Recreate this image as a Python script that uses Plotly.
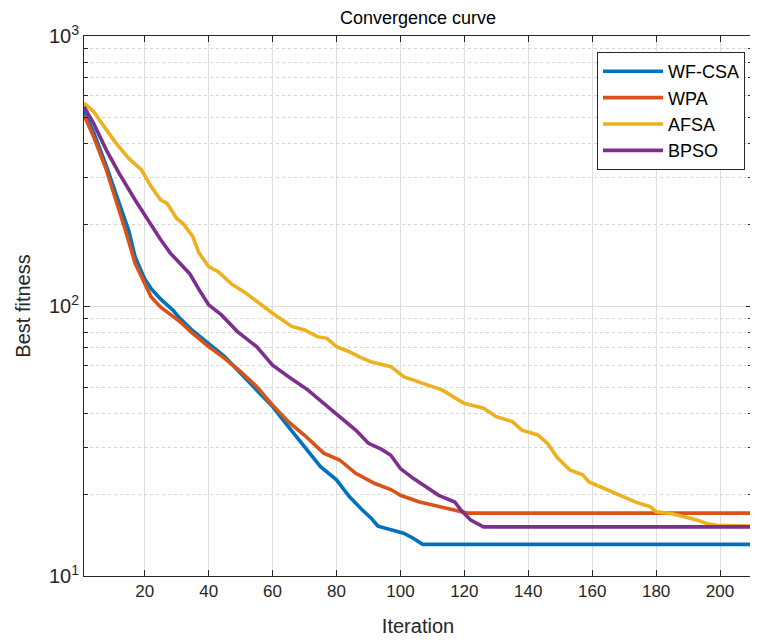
import plotly.graph_objects as go

# ---- data ----
wfcsa_iter = [1, 4, 8, 11, 15, 17, 20, 22, 25, 29, 31, 35, 40, 45, 50, 55, 60, 65, 70, 75, 80, 84, 88, 91, 93, 97, 101, 104, 107, 210]
wfcsa_val = [528, 440, 330, 258, 190, 152, 126, 116, 106, 96, 90, 81, 72.8, 64.9, 56.3, 48.9, 42.4, 35.7, 30.1, 25.4, 22.7, 19.7, 17.6, 16.3, 15.3, 14.8, 14.4, 13.8, 13.1, 13.1]

wpa_iter = [1, 4, 8, 11, 14, 17, 20, 22, 25, 29, 31, 35, 40, 45, 50, 55, 60, 65, 70, 76, 81, 86, 92, 97, 100, 106, 112, 119, 121, 210]
wpa_val = [509, 424, 319, 247, 190, 144, 120, 108, 99, 91, 87.5, 79.2, 70.7, 64, 57.1, 50.3, 42.9, 37.2, 33.2, 28.5, 26.9, 24, 22, 20.9, 19.9, 18.8, 18.1, 17.2, 17.1, 17.1]

afsa_iter = [1, 4, 8, 11, 15, 19, 22, 25, 27, 30, 32, 35, 37, 40, 43, 47, 51, 56, 60, 66, 70, 74, 77, 80, 84, 87, 91, 97, 101, 107, 113, 118, 120, 122, 126, 130, 135, 138, 143, 146, 149, 153, 157, 159, 165, 169, 174, 178, 180, 185, 190, 193, 196, 199, 210]
afsa_val = [564, 525, 449, 401, 352, 319, 277, 247, 240, 211, 202, 181, 157, 140, 134, 121, 113, 102, 94, 84, 81.5, 77, 75.9, 70.7, 67.7, 64.9, 62, 59.6, 54.7, 51.7, 48.9, 45, 43.6, 43, 41.8, 38.9, 37.3, 34.7, 33.3, 31, 27.5, 24.7, 23.7, 22.3, 20.8, 19.7, 18.7, 18.1, 17.3, 17, 16.4, 16.1, 15.6, 15.4, 15.3]

bpso_iter = [1, 4, 8, 12, 17, 21, 25, 28, 31, 34, 37, 40, 44, 49, 55, 60, 65, 71, 76, 81, 86, 90, 94, 97, 100, 104, 108, 112, 117, 119, 122, 126, 210]
bpso_val = [547, 475, 378, 310, 247, 208, 176, 157, 144, 132, 115, 101, 92.7, 80.4, 70.7, 60.4, 54.7, 48.9, 43.6, 38.9, 34.7, 31, 29.5, 28, 25, 23, 21.4, 19.9, 18.8, 17.5, 16.1, 15.2, 15.2]

series_names = ["WF-CSA", "WPA", "AFSA", "BPSO"]
series_colors = ["#0072BD", "#D95319", "#EDB120", "#7E2F8E"]

x_ticks = [20, 40, 60, 80, 100, 120, 140, 160, 180, 200]
y_ticks = [10, 100, 1000]
y_ticktext = ["10<sup>1</sup>", "10<sup>2</sup>", "10<sup>3</sup>"]
y_minor = [m * d for d in (10, 100) for m in range(2, 10)]

FONT = "Liberation Sans, Arial, Helvetica, sans-serif"
INK = "#262626"
GRID = "#dedede"

# page is shown with an 8px body margin, so the figure is sized to compensate
W, H = 750, 632
L, T = 76, 28
R, B = 6, 64

fig = go.Figure()
for name, color, xs, ys in zip(series_names, series_colors,
                               [wfcsa_iter, wpa_iter, afsa_iter, bpso_iter],
                               [wfcsa_val, wpa_val, afsa_val, bpso_val]):
    fig.add_trace(go.Scatter(x=xs, y=ys, mode="lines", name=name,
                             line=dict(color=color, width=3.6)))

fig.update_layout(
    width=W, height=H,
    margin=dict(l=L, r=R, t=T, b=B),
    paper_bgcolor="white", plot_bgcolor="white",
    font=dict(family=FONT, color=INK, size=17),
    title=dict(text="Convergence curve", x=(L + (W - L - R) / 2) / W, xanchor="center",
               y=1 - 10 / H, yanchor="middle",
               font=dict(size=18, color="#000000", family=FONT)),
    legend=dict(x=(589 - L) / (W - L - R), y=1 - (44 - T) / (H - T - B),
                xanchor="left", yanchor="top",
                bgcolor="white", bordercolor=INK, borderwidth=1,
                font=dict(size=18, color="#000000", family=FONT),
                itemwidth=60, tracegroupgap=0),
    showlegend=True,
)

fig.update_xaxes(
    range=[1, 210], tickvals=x_ticks,
    ticks="inside", ticklen=6, tickcolor=INK, tickwidth=1,
    showline=True, linecolor=INK, linewidth=1, mirror="allticks",
    showgrid=True, gridcolor=GRID, gridwidth=1, zeroline=False,
    tickfont=dict(size=17, color=INK),
    title=dict(text="Iteration", font=dict(size=20, color=INK), standoff=18),
)
fig.update_yaxes(
    type="log", range=[1, 3], tickvals=y_ticks, ticktext=y_ticktext,
    ticks="inside", ticklen=6, tickcolor=INK, tickwidth=1,
    showline=True, linecolor=INK, linewidth=1, mirror="allticks",
    showgrid=True, gridcolor=GRID, gridwidth=1, zeroline=False,
    tickfont=dict(size=20, color=INK),
    minor=dict(tickmode="array", tickvals=y_minor, ticks="inside", ticklen=4,
               tickcolor=INK, showgrid=True, gridcolor="#d4d4d4",
               griddash="dot", gridwidth=1),
    title=dict(text="Best fitness", font=dict(size=20, color=INK), standoff=12),
)

fig.write_html("out.html")
